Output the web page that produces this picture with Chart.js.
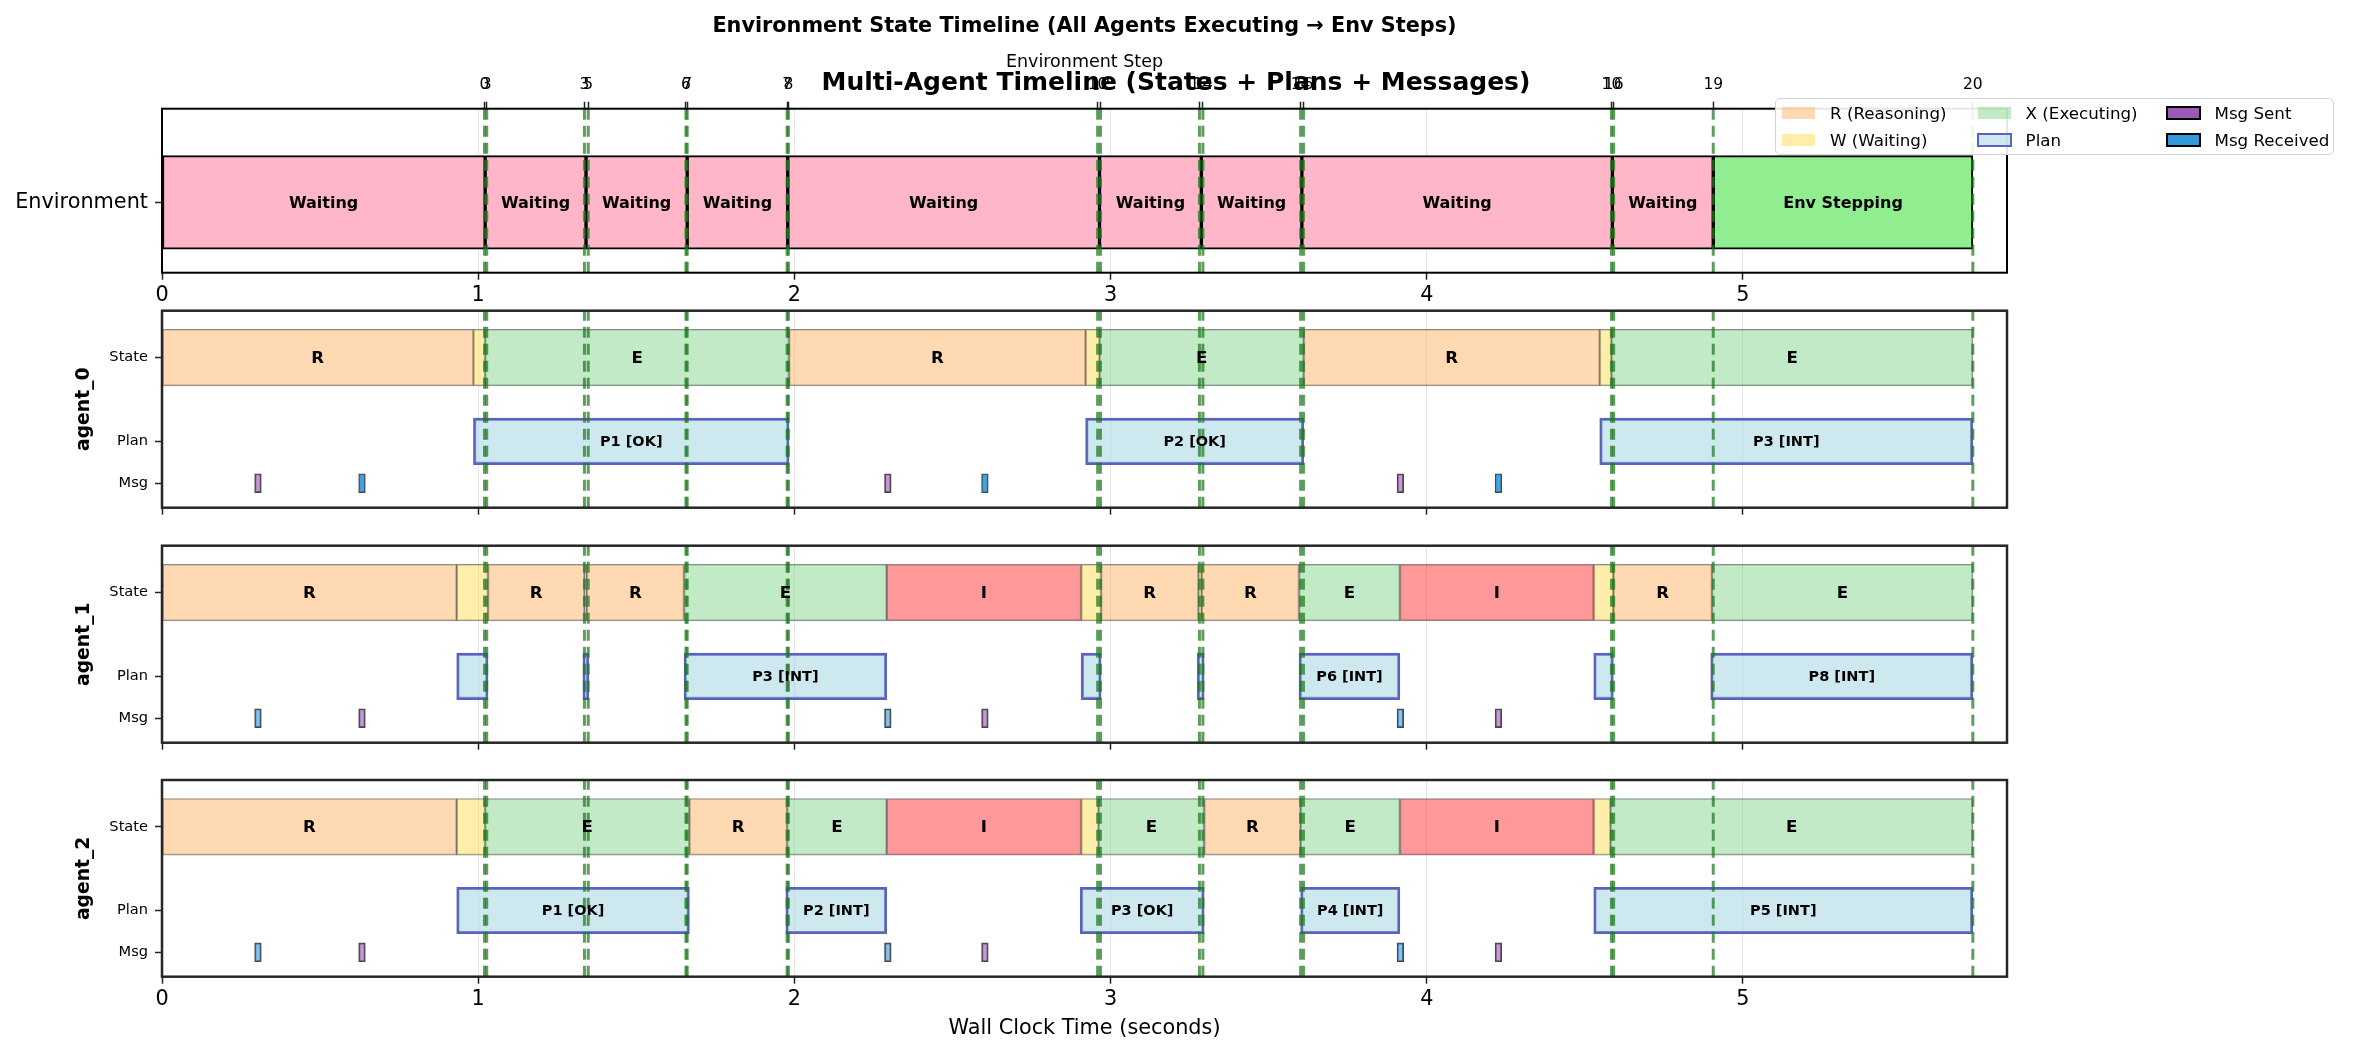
<!DOCTYPE html>
<html>
<head>
<meta charset="utf-8">
<title>Multi-Agent Timeline</title>
<script src="https://cdn.jsdelivr.net/npm/chart.js"></script>
<style>
    body { margin: 0; background: #fff; font-family: 'DejaVu Sans', sans-serif; }
    #wrap { position: relative; width: 2353px; height: 1055px; overflow: hidden; background: #fff; }
    #wrap canvas { position: absolute; left: 0; top: 0; }
    .txt { position: absolute; white-space: nowrap; color: #000; transform: translateX(-50%); }
    #legend { position: absolute; left: 1775px; top: 98px; width: 559px; height: 57px; box-sizing: border-box;
              border: 1.5px solid #d4d4d4; border-radius: 5px; background: rgba(255,255,255,0.9); }
    #legend .sw { position: absolute; box-sizing: border-box; }
    #legend .lb { position: absolute; font-size: 16.7px; line-height: 20px; white-space: nowrap; }
</style>
</head>
<body>
<div id="wrap">
    <canvas id="envChart" width="2353" height="1055"></canvas>
    <canvas id="agent0" width="2353" height="1055"></canvas>
    <canvas id="agent1" width="2353" height="1055"></canvas>
    <canvas id="agent2" width="2353" height="1055"></canvas>
    <div class="txt" style="left:1084.5px; top:14.6px; font-size:20.8px; line-height:20.8px; font-weight:bold;">Environment State Timeline (All Agents Executing → Env Steps)</div>
    <div class="txt" style="left:1176px; top:69px; font-size:25px; line-height:25px; font-weight:bold;">Multi-Agent Timeline (States + Plans + Messages)</div>
    <div id="legend"></div>
</div>

<script>
    // ---- data (seconds of wall clock time) ----
    const xTicks = [0, 1, 2, 3, 4, 5];
    const stepTimes = [1.020, 1.027, 1.336, 1.348, 1.657, 1.661, 1.977, 1.981, 2.959, 2.968,
                       3.281, 3.292, 3.601, 3.610, 4.584, 4.591, 4.906, 5.727];
    const stepLabels = ['0', '3', '3', '5', '6', '7', '7', '8', '10', '12',
                        '12', '14', '14', '16', '10', '16', '19', '20'];

    const envSegments = [
        ['Waiting', 0, 1.022], ['Waiting', 1.022, 1.341], ['Waiting', 1.341, 1.661],
        ['Waiting', 1.661, 1.979], ['Waiting', 1.979, 2.965], ['Waiting', 2.965, 3.287],
        ['Waiting', 3.287, 3.605], ['Waiting', 3.605, 4.587], ['Waiting', 4.587, 4.906],
        ['Env Stepping', 4.906, 5.727]
    ];

    const agentNames = ['agent_0', 'agent_1', 'agent_2'];
    const rowValues = [0.5, 1, 2];
    const rowNames = ['Msg', 'Plan', 'State'];

    const agent0States = [
        ['R', 0, 0.985], ['W', 0.985, 1.022], ['E', 1.022, 1.983], ['R', 1.983, 2.921],
        ['W', 2.921, 2.965], ['E', 2.965, 3.611], ['R', 3.611, 4.547], ['W', 4.547, 4.584],
        ['E', 4.584, 5.727]
    ];
    const agent1States = [
        ['R', 0, 0.932], ['W', 0.932, 1.031], ['R', 1.031, 1.336], ['W', 1.336, 1.343],
        ['R', 1.343, 1.651], ['E', 1.651, 2.292], ['I', 2.292, 2.907], ['W', 2.907, 2.970],
        ['R', 2.970, 3.278], ['W', 3.278, 3.288], ['R', 3.288, 3.596], ['E', 3.596, 3.915],
        ['I', 3.915, 4.528], ['W', 4.528, 4.590], ['R', 4.590, 4.902], ['E', 4.902, 5.727]
    ];
    const agent2States = [
        ['R', 0, 0.932], ['W', 0.932, 1.022], ['E', 1.022, 1.668], ['R', 1.668, 1.977],
        ['E', 1.977, 2.292], ['I', 2.292, 2.907], ['W', 2.907, 2.962], ['E', 2.962, 3.296],
        ['R', 3.296, 3.601], ['E', 3.601, 3.915], ['I', 3.915, 4.528], ['W', 4.528, 4.581],
        ['E', 4.581, 5.727]
    ];

    const agent0Plans = [['P1 [OK]', 0.985, 1.983], ['P2 [OK]', 2.921, 3.611], ['P3 [INT]', 4.547, 5.727]];
    const agent1Plans = [
        ['P1 [INT]', 0.932, 1.031], ['P2 [INT]', 1.331, 1.350], ['P3 [INT]', 1.651, 2.292],
        ['P4 [INT]', 2.907, 2.970], ['P5 [INT]', 3.274, 3.296], ['P6 [INT]', 3.596, 3.915],
        ['P7 [INT]', 4.528, 4.590], ['P8 [INT]', 4.898, 5.727]
    ];
    const agent2Plans = [
        ['P1 [OK]', 0.932, 1.668], ['P2 [INT]', 1.973, 2.292], ['P3 [OK]', 2.904, 3.296],
        ['P4 [INT]', 3.601, 3.915], ['P5 [INT]', 4.528, 5.727]
    ];

    const msgTimes = [0.293, 0.622, 2.285, 2.592, 3.906, 4.216];
    const agent0MsgKinds = ['sent', 'recv', 'sent', 'recv', 'sent', 'recv'];
    const agent1MsgKinds = ['recv', 'sent', 'recv', 'sent', 'recv', 'sent'];
    const agent2MsgKinds = ['recv', 'sent', 'recv', 'sent', 'recv', 'sent'];

    // ---- look ----
    const MSG_DUR = 0.021;
    const MIN_LABEL_WIDTH = 0.15;
    const X_MIN = 0, X_MAX = 5.835;
    const PAGE_W = 2353, PAGE_H = 1055;
    const PLOT_LEFT = 162, PLOT_RIGHT = 2007;
    const FONT = "'DejaVu Sans'";

    const stateColors = {
        R: 'rgba(255,179,102,0.5)', W: 'rgba(255,221,85,0.5)',
        E: 'rgba(133,213,143,0.5)', I: 'rgba(255,51,51,0.5)'
    };
    const planFill = 'rgba(173,216,230,0.6)';
    const planEdge = '#5a62bd';

    Chart.defaults.font.family = FONT;
    Chart.defaults.color = '#000';

    const stepLines = {
        id: 'stepLines',
        afterDatasetsDraw(chart) {
            const {ctx, chartArea: a, scales: {x}} = chart;
            ctx.save();
            ctx.beginPath();
            ctx.rect(a.left, a.top, a.width, a.height);
            ctx.clip();
            ctx.strokeStyle = 'rgba(30,120,30,0.72)';
            ctx.lineWidth = 3;
            ctx.setLineDash([11, 6]);
            stepTimes.forEach(t => {
                const px = x.getPixelForValue(t);
                ctx.beginPath();
                ctx.moveTo(px, a.bottom);
                ctx.lineTo(px, a.top);
                ctx.stroke();
            });
            ctx.restore();
        }
    };

    const barLabels = {
        id: 'barLabels',
        afterDatasetsDraw(chart) {
            const ctx = chart.ctx;
            const xs = chart.scales.x;
            chart.data.datasets.forEach((ds, di) => {
                if (!ds.labelFont) return;
                const meta = chart.getDatasetMeta(di);
                ctx.save();
                ctx.font = ds.labelFont;
                ctx.fillStyle = '#000';
                ctx.textAlign = 'center';
                ctx.textBaseline = 'middle';
                ds.data.forEach((d, i) => {
                    if (!d.label || d.x[1] - d.x[0] < MIN_LABEL_WIDTH) return;
                    ctx.fillText(d.label, xs.getPixelForValue((d.x[0] + d.x[1]) / 2), meta.data[i].y + 1);
                });
                ctx.restore();
            });
        }
    };

    const frame = {
        id: 'frame',
        afterDraw(chart, args, opts) {
            const {ctx, chartArea: a} = chart;
            ctx.save();
            ctx.strokeStyle = opts.color;
            ctx.lineWidth = opts.width;
            ctx.strokeRect(a.left, a.top, a.width, a.height);
            ctx.restore();
        }
    };

    function xAxis(height, showLabels, extra) {
        return Object.assign({
            type: 'linear', position: 'bottom', min: X_MIN, max: X_MAX, offset: false,
            afterBuildTicks: s => { s.ticks = xTicks.map(v => ({value: v})); },
            afterFit: s => { s.height = height; },
            border: {display: false},
            grid: {offset: false, color: 'rgba(0,0,0,0.1)', lineWidth: 1, tickColor: '#222', tickWidth: 1.5, tickLength: 7},
            ticks: {display: showLabels, autoSkip: false, maxRotation: 0, padding: 3,
                    font: {size: 20.8}, color: '#000', callback: v => String(v)}
        }, extra || {});
    }

    function yAxis(min, max, values, names, fontSize, extra) {
        return Object.assign({
            type: 'linear', min: min, max: max, offset: false,
            afterBuildTicks: s => { s.ticks = values.map(v => ({value: v})); },
            afterFit: s => { s.width = PLOT_LEFT; },
            border: {display: false},
            grid: {offset: false, drawOnChartArea: false, tickColor: '#222', tickWidth: 1.5, tickLength: 7},
            ticks: {autoSkip: false, padding: 7, font: {size: fontSize}, color: '#000', callback: (v, i) => names[i]}
        }, extra || {});
    }

    // ---- environment panel ----
    const envTop = 108.7, envBottom = 272.7;
    new Chart(document.getElementById('envChart'), {
        type: 'bar',
        data: {
            datasets: [{
                data: envSegments.map(([lab, s, e]) => ({x: [s, e], y: 0, label: lab})),
                backgroundColor: c => (c.raw && c.raw.label === 'Env Stepping') ? '#90ee90' : '#ffb6c8',
                borderColor: '#000',
                borderWidth: 2,
                borderSkipped: false,
                barThickness: 93.6,
                grouped: false,
                labelFont: 'bold 16px ' + FONT
            }]
        },
        options: {
            responsive: false, animation: false, devicePixelRatio: 1,
            indexAxis: 'y',
            layout: {padding: {left: 0, right: PAGE_W - PLOT_RIGHT, top: envTop - 58.7, bottom: PAGE_H - envBottom - 35}},
            plugins: {legend: {display: false}, tooltip: {enabled: false}, frame: {color: '#000', width: 2}},
            scales: {
                x: xAxis(35, true),
                x2: {
                    type: 'linear', position: 'top', axis: 'x', min: X_MIN, max: X_MAX, offset: false,
                    afterBuildTicks: s => { s.ticks = stepTimes.map(v => ({value: v})); },
                    afterFit: s => { s.height = 58.7; },
                    border: {display: false},
                    grid: {offset: false, drawOnChartArea: false, tickColor: '#222', tickWidth: 1.5, tickLength: 7},
                    ticks: {autoSkip: false, maxRotation: 0, minRotation: 0, padding: 7,
                            font: {size: 15.5}, color: '#000', callback: (v, i) => stepLabels[i]},
                    title: {display: true, text: 'Environment Step', font: {size: 17.5}, color: '#000',
                            padding: {top: 1.5, bottom: 0}}
                },
                y: yAxis(-0.45, 0.6, [0], ['Environment'], 20.8)
            }
        },
        plugins: [stepLines, barLabels, frame]
    });

    // ---- agent panels ----
    function makeAgentChart(id, name, states, plans, kinds, recvColor, top, bottom, last) {
        const axisH = last ? PAGE_H - bottom : 10;
        const xOpts = last ? {title: {display: true, text: 'Wall Clock Time (seconds)', font: {size: 20.8},
                                      color: '#000', padding: {top: 0, bottom: 14}}} : {};
        new Chart(document.getElementById(id), {
            type: 'bar',
            data: {
                datasets: [
                    {
                        data: states.map(([s, a, b]) => ({x: [a, b], y: rowValues[2], label: s})),
                        backgroundColor: c => c.raw ? stateColors[c.raw.label] : stateColors.R,
                        borderColor: 'rgba(0,0,0,0.45)',
                        borderWidth: 1,
                        borderSkipped: false,
                        barThickness: 56.7,
                        grouped: false,
                        labelFont: 'bold 16.7px ' + FONT
                    },
                    {
                        data: plans.map(([p, a, b]) => ({x: [a, b], y: rowValues[1], label: p})),
                        backgroundColor: planFill,
                        borderColor: planEdge,
                        borderWidth: 2.5,
                        borderSkipped: false,
                        barThickness: 46.5,
                        grouped: false,
                        labelFont: 'bold 14.5px ' + FONT
                    },
                    {
                        data: msgTimes.map((t, i) => ({x: [t, t + MSG_DUR], y: rowValues[0], kind: kinds[i]})),
                        backgroundColor: c => (c.raw && c.raw.kind === 'sent') ? 'rgba(155,89,182,0.6)' : recvColor,
                        borderColor: 'rgba(40,40,40,0.85)',
                        borderWidth: 1.3,
                        borderSkipped: false,
                        barThickness: 19,
                        grouped: false
                    }
                ]
            },
            options: {
                responsive: false, animation: false, devicePixelRatio: 1,
                indexAxis: 'y',
                layout: {padding: {left: 0, right: PAGE_W - PLOT_RIGHT, top: top, bottom: PAGE_H - bottom - axisH}},
                plugins: {legend: {display: false}, tooltip: {enabled: false}, frame: {color: '#262626', width: 2.5}},
                scales: {
                    x: xAxis(axisH, last, xOpts),
                    y: yAxis(0.208, 2.56, rowValues, rowNames, 14.6, {
                        title: {display: true, text: name, font: {size: 18.75, weight: 'bold'}, color: '#000',
                                padding: {top: 73, bottom: 0}}
                    })
                }
            },
            plugins: [stepLines, barLabels, frame]
        });
    }

    makeAgentChart('agent0', agentNames[0], agent0States, agent0Plans, agent0MsgKinds, 'rgba(52,152,219,0.9)', 310.7, 507.7, false);
    makeAgentChart('agent1', agentNames[1], agent1States, agent1Plans, agent1MsgKinds, 'rgba(52,152,219,0.6)', 545.7, 742.7, false);
    makeAgentChart('agent2', agentNames[2], agent2States, agent2Plans, agent2MsgKinds, 'rgba(52,152,219,0.6)', 780, 976.7, true);

    // ---- legend ----
    const legendItems = [
        {label: 'R (Reasoning)', fill: stateColors.R, col: 0, row: 0},
        {label: 'W (Waiting)', fill: stateColors.W, col: 0, row: 1},
        {label: 'X (Executing)', fill: stateColors.E, col: 1, row: 0},
        {label: 'Plan', fill: planFill, edge: planEdge, col: 1, row: 1},
        {label: 'Msg Sent', fill: '#9b59b6', edge: '#000', col: 2, row: 0},
        {label: 'Msg Received', fill: '#3498db', edge: '#000', col: 2, row: 1}
    ];
    const swatchX = [6, 202, 391], textX = [54, 249.6, 438.5], rowY = [14.2, 40.8];
    const legend = document.getElementById('legend');
    legendItems.forEach(it => {
        const sw = document.createElement('div');
        sw.className = 'sw';
        const w = it.edge ? 35 : 33, h = it.edge ? 14 : 12;
        sw.style.left = (swatchX[it.col] - (w - 33) / 2) + 'px';
        sw.style.top = (rowY[it.row] - h / 2) + 'px';
        sw.style.width = w + 'px';
        sw.style.height = h + 'px';
        sw.style.background = it.fill;
        if (it.edge) sw.style.border = '2px solid ' + it.edge;
        legend.appendChild(sw);
        const lb = document.createElement('div');
        lb.className = 'lb';
        lb.style.left = textX[it.col] + 'px';
        lb.style.top = (rowY[it.row] - 10) + 'px';
        lb.textContent = it.label;
        legend.appendChild(lb);
    });
</script>
</body>
</html>
